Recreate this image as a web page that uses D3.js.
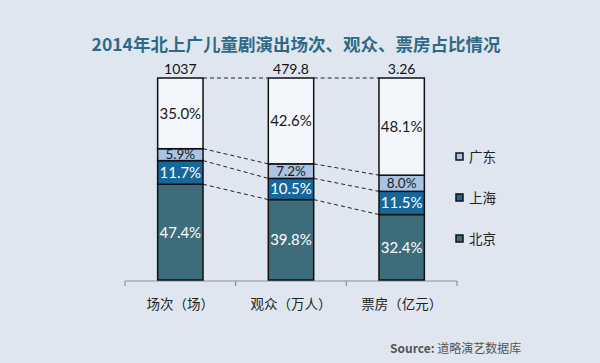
<!DOCTYPE html>
<html>
<head>
<meta charset="utf-8">
<script src="https://cdn.jsdelivr.net/npm/d3@7"></script>
<style>
  html, body { margin: 0; padding: 0; background: #dfe6f0; }
  #chartContainer { width: 600px; height: 363px; }
  text { font-family: "Noto Sans CJK SC", "Noto Sans", sans-serif; }
  text.num { font-family: Lato, "Noto Sans", sans-serif; }
</style>
</head>
<body>
<div id="chartContainer"></div>
<script>
// chart data
const categories = ["场次（场）", "观众（万人）", "票房（亿元）"];
const totals = ["1037", "479.8", "3.26"];
const beijing = [47.4, 39.8, 32.4];
const shanghai = [11.7, 10.5, 11.5];
const guangdong = [5.9, 7.2, 8.0];
const others = [35.0, 42.6, 48.1];
const seriesNames = ["北京", "上海", "广东", "其他"];
const legendNames = ["广东", "上海", "北京"];

document.addEventListener('DOMContentLoaded', () => {
    const svg = d3.select("#chartContainer")
        .append("svg")
        .attr("width", 600)
        .attr("height", 363);

    const colors = {
        "北京": "#3d6c7a",
        "上海": "#17679a",
        "广东": "#a8c3e4",
        "其他": "#f3f6fb"
    };
    const labelColors = { "北京": "#fff", "上海": "#fff", "广东": "#1a1a1a", "其他": "#1a1a1a" };
    const labelSizes = { "北京": "15px", "上海": "15px", "广东": "13.5px", "其他": "15px" };

    // build rows for stacking
    const rows = categories.map((c, i) => ({
        name: c,
        "北京": beijing[i],
        "上海": shanghai[i],
        "广东": guangdong[i],
        "其他": others[i]
    }));
    const stacked = d3.stack().keys(seriesNames)(rows);

    const xScale = d3.scaleBand()
        .domain(categories)
        .range([125, 457])
        .paddingInner(0.59)
        .paddingOuter(0.295);

    const yScale = d3.scaleLinear()
        .domain([0, 100])
        .range([280, 78]);

    // Title
    svg.append("text")
        .attr("x", 296)
        .attr("y", 51)
        .attr("text-anchor", "middle")
        .style("font-size", "17.5px")
        .style("font-weight", "bold")
        .style("fill", "#2f6a85")
        .text("2014年北上广儿童剧演出场次、观众、票房占比情况");

    // X axis
    const xAxis = svg.append("g")
        .attr("transform", "translate(0,281)");
    xAxis.append("line")
        .attr("x1", 125).attr("x2", 457)
        .attr("stroke", "#8a9096").attr("stroke-width", 1.2);
    const tickPos = [125].concat(categories.map(c => xScale(c) + xScale.bandwidth() + xScale.step() * xScale.paddingInner() / 2));
    tickPos[tickPos.length - 1] = 457;
    xAxis.selectAll(".tick")
        .data(tickPos)
        .enter()
        .append("line")
        .attr("x1", d => d).attr("x2", d => d)
        .attr("y1", 0).attr("y2", 5)
        .attr("stroke", "#8a9096").attr("stroke-width", 1.2);
    xAxis.selectAll(".cat")
        .data(categories)
        .enter()
        .append("text")
        .attr("x", d => xScale(d) + xScale.bandwidth() / 2)
        .attr("y", 28)
        .attr("text-anchor", "middle")
        .style("font-size", "13.5px")
        .style("fill", "#222")
        .text(d => d);

    // dashed connector lines between bars
    const bounds = [beijing.map((v, i) => v),
                    beijing.map((v, i) => v + shanghai[i]),
                    beijing.map((v, i) => v + shanghai[i] + guangdong[i]),
                    categories.map(() => 100)];
    const connectors = [];
    bounds.forEach(b => {
        for (let i = 0; i < categories.length - 1; i++) {
            connectors.push({
                x1: xScale(categories[i]) + xScale.bandwidth(),
                x2: xScale(categories[i + 1]),
                y1: yScale(Math.min(b[i], 100)),
                y2: yScale(Math.min(b[i + 1], 100))
            });
        }
    });
    svg.selectAll(".conn")
        .data(connectors)
        .enter()
        .append("line")
        .attr("x1", d => d.x1).attr("x2", d => d.x2)
        .attr("y1", d => d.y1).attr("y2", d => d.y2)
        .attr("stroke", "#222")
        .attr("stroke-width", 1)
        .attr("stroke-dasharray", "4,3");

    // bars
    const layer = svg.selectAll(".layer")
        .data(stacked)
        .enter()
        .append("g");
    layer.selectAll("rect")
        .data(d => d.map(p => ({ key: d.key, p: p })))
        .enter()
        .append("rect")
        .attr("x", d => xScale(d.p.data.name))
        .attr("y", d => yScale(Math.min(d.p[1], 100)))
        .attr("width", xScale.bandwidth())
        .attr("height", d => yScale(d.p[0]) - yScale(Math.min(d.p[1], 100)))
        .attr("fill", d => colors[d.key])
        .attr("stroke", "#111")
        .attr("stroke-width", 1.5);

    layer.selectAll(".lbl")
        .data(d => d.map(p => ({ key: d.key, p: p })))
        .enter()
        .append("text")
        .attr("class", "num")
        .attr("x", d => xScale(d.p.data.name) + xScale.bandwidth() / 2)
        .attr("y", d => (yScale(d.p[0]) + yScale(Math.min(d.p[1], 100))) / 2 + (d.key === "广东" ? 4.5 : 5.5))
        .attr("text-anchor", "middle")
        .style("font-size", d => labelSizes[d.key])
        .style("fill", d => labelColors[d.key])
        .text(d => (d.p[1] - d.p[0]).toFixed(1) + "%");

    // totals above bars
    svg.selectAll(".total")
        .data(categories)
        .enter()
        .append("text")
        .attr("class", "num")
        .attr("x", (d, i) => xScale(d) + xScale.bandwidth() / 2)
        .attr("y", 74)
        .attr("text-anchor", "middle")
        .style("font-size", "14px")
        .style("fill", "#111")
        .text((d, i) => totals[i]);

    // legend
    const legend = svg.selectAll(".legend")
        .data(legendNames)
        .enter()
        .append("g")
        .attr("transform", (d, i) => `translate(456,${157 + i * 41})`);
    legend.append("rect")
        .attr("x", 0).attr("y", -4)
        .attr("width", 7).attr("height", 7)
        .attr("fill", d => colors[d])
        .attr("stroke", "#111")
        .attr("stroke-width", 1.5);
    legend.append("text")
        .attr("x", 13)
        .attr("y", 5)
        .style("font-size", "13.5px")
        .style("fill", "#222")
        .text(d => d);

    // source
    const src = svg.append("text")
        .attr("x", 390)
        .attr("y", 353)
        .style("font-size", "12px")
        .style("fill", "#555");
    src.append("tspan").style("font-weight", "bold").text("Source: ");
    src.append("tspan").text("道略演艺数据库");
});
</script>
</body>
</html>
